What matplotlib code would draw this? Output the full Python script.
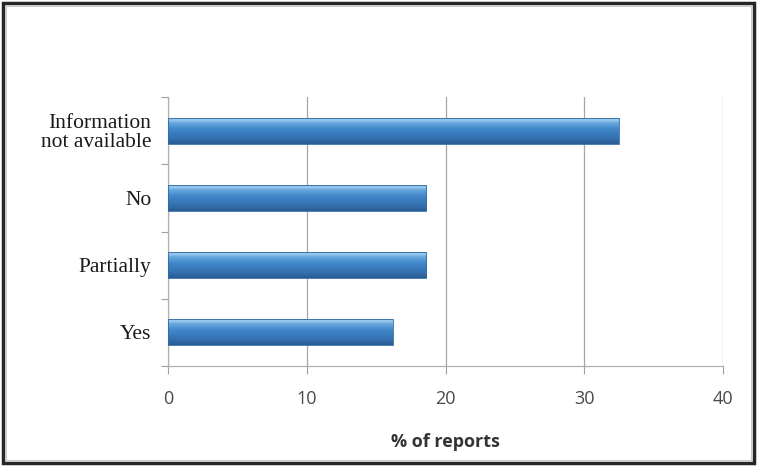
import matplotlib
matplotlib.use("Agg")
import matplotlib.pyplot as plt
import numpy as np
from matplotlib.colors import LinearSegmentedColormap
from matplotlib.patches import Rectangle

categories = ["Yes", "Partially", "No", "Information\nnot available"]
values = [16.2, 18.6, 18.6, 32.5]
xticks = [0, 10, 20, 30, 40]
xlabel = "% of reports"

W, H = 757, 466
fig = plt.figure(figsize=(W / 100, H / 100), dpi=100)
fig.patch.set_facecolor("white")

left, right, top, bottom = 168, 723, 97, 366
ax = fig.add_axes([left / W, 1 - bottom / H, (right - left) / W, (bottom - top) / H])

y = np.arange(len(categories))
bars = ax.barh(y, values, height=0.39, color="#3d83c6", zorder=3)

# gradient shading for the Excel-like 3D bars
cmap = LinearSegmentedColormap.from_list(
    "bar", [(0.0, "#285a90"), (0.2, "#3470af"), (0.55, "#3f87ca"), (0.78, "#66a6dc"),
            (0.9, "#9fcdf0"), (1.0, "#5c9dd6")])
grad = np.linspace(0, 1, 256).reshape(-1, 1)
for b in bars:
    x0, y0, w, h = b.get_x(), b.get_y(), b.get_width(), b.get_height()
    im = ax.imshow(grad, extent=[x0, x0 + w, y0, y0 + h], origin="lower",
                   cmap=cmap, aspect="auto", zorder=4, interpolation="bilinear")
    im.set_clip_path(b)
    ax.add_patch(Rectangle((x0, y0), w, h, fill=False, edgecolor="#2f6aa6",
                           linewidth=0.6, zorder=5))

ax.set_xlim(0, 40)
ax.set_ylim(-0.5, len(categories) - 0.5)
ax.set_xticks(xticks)
ax.set_xticklabels([str(t) for t in xticks], family="Open Sans", fontsize=13, color="#4a4a4a")
ax.set_yticks(y)
ax.set_yticklabels(categories, family="Liberation Serif", fontsize=15.5, color="#1a1a1a",
                   linespacing=1.0)
ax.set_yticks(np.arange(-0.5, len(categories), 1.0), minor=True)
ax.tick_params(axis="y", which="major", length=0, pad=12)
ax.tick_params(axis="y", which="minor", length=5, color="#a0a0a0", width=0.8)
ax.tick_params(axis="x", length=6, color="#a0a0a0", width=0.8, pad=11, direction="out")

ax.grid(axis="x", color="#a6a6a6", linewidth=0.9, zorder=0)
for s in ["top", "right"]:
    ax.spines[s].set_visible(False)
ax.spines["left"].set_color("#b0b0b0")
ax.spines["bottom"].set_color("#b0b0b0")
ax.spines["left"].set_linewidth(0.9)
ax.spines["bottom"].set_linewidth(0.9)

ax.set_xlabel(xlabel, family="Open Sans", fontsize=13, fontweight="bold", color="#333333",
              labelpad=18)

# outer frame
fig.add_artist(Rectangle((3 / W, 3 / H), (W - 6) / W, (H - 6) / H, transform=fig.transFigure,
                         fill=False, edgecolor="#262626", linewidth=2.5))
fig.add_artist(Rectangle((6 / W, 6 / H), (W - 12) / W, (H - 12) / H, transform=fig.transFigure,
                         fill=False, edgecolor="#c8c8c8", linewidth=0.7))

fig.savefig("out.png", dpi=100, facecolor="white")
